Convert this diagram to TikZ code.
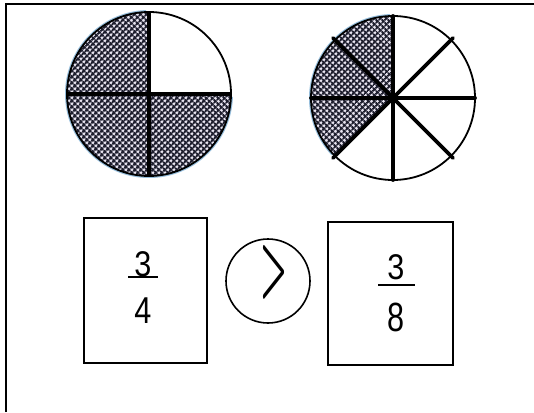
\documentclass[tikz,border=0pt]{standalone}
\usepackage{fontspec}
\setmainfont{Liberation Sans}
\usetikzlibrary{patterns.meta}
\definecolor{hatch}{RGB}{30,30,46}
\definecolor{holes}{RGB}{232,228,240}
\definecolor{halo}{RGB}{150,190,220}
\begin{document}
\begin{tikzpicture}[x=1pt,y=-1pt,
  shaded/.style={fill=holes,postaction={pattern={Lines[angle=45,distance=4pt,line width=2pt]},pattern color=hatch},
     postaction={pattern={Lines[angle=-45,distance=4pt,line width=2pt]},pattern color=hatch}},
  divider/.style={line width=3.8pt},
  spoke/.style={line width=3.8pt,line cap=round},
  rim/.style={line width=1.8pt},
  fracbox/.style={draw,line width=1.8pt,inner sep=0pt},
  cmpcircle/.style={draw,circle,line width=1.6pt,minimum size=84pt,inner sep=0pt},
  digit/.style={font=\fontsize{34}{34}\selectfont,inner sep=0pt},
  bar/.style={line width=1.8pt}]
\useasboundingbox (0,0) rectangle (534,412);
\fill[white] (0,0) rectangle (534,412);
% frame
\draw[line width=2.2pt] (6,412) -- (6,4.3) -- (534,4.3);
% left circle: 3/4 shaded (angles negated because the y axis points down)
\coordinate (c1) at (149,94);
\path[shaded] (c1) -- ++(-90:82) arc[start angle=-90,end angle=-360,radius=82] -- cycle;
\draw[halo,line width=1.6pt] (c1) ++(-92:83.2) arc[start angle=-92,end angle=-358,radius=83.2];
\draw[rim] (c1) circle[radius=82];
\draw[divider] (c1) ++(0,-82) -- ++(0,164);
\draw[divider] (c1) ++(-82,0) -- ++(164,0);
% right circle: 3/8 shaded
\coordinate (c2) at (393,98);
\path[shaded] (c2) -- ++(-90:82) arc[start angle=-90,end angle=-225,radius=82] -- cycle;
\draw[halo,line width=1.6pt] (c2) ++(-92:83.2) arc[start angle=-92,end angle=-223,radius=83.2];
\draw[rim] (c2) circle[radius=82];
\foreach \a in {0,90,180,270} {
  \draw[spoke] (c2) -- ++(\a:82);
}
\foreach \a in {45,135,225,315} {
  \draw[spoke] (c2) -- ++(\a:85);
}
% fraction boxes
\node[fracbox,minimum width=123pt,minimum height=145pt] (b1) at (145.5,290.5) {};
\node[fracbox,minimum width=125pt,minimum height=143pt] (b2) at (390.5,293.5) {};
\node[cmpcircle] (cmp) at (268,281) {};
\node[inner sep=0pt] (gt) at (274,272) {\resizebox{27pt}{47pt}{\boldmath$>$}};
% 3/4
\node[digit] (n1) at (143,264) {\scalebox{0.9}[1.05]{3}};
\node[digit] (d1) at (143,311) {\scalebox{0.9}[1.1]{4}};
\draw[bar] (128,277) -- (158,277);
% 3/8
\node[digit] (n2) at (396,267) {\scalebox{0.9}[1.05]{3}};
\node[digit] (d2) at (396,317) {\scalebox{0.9}[1.2]{8}};
\draw[bar] (378,285) -- (415,285);
\end{tikzpicture}
\end{document}
